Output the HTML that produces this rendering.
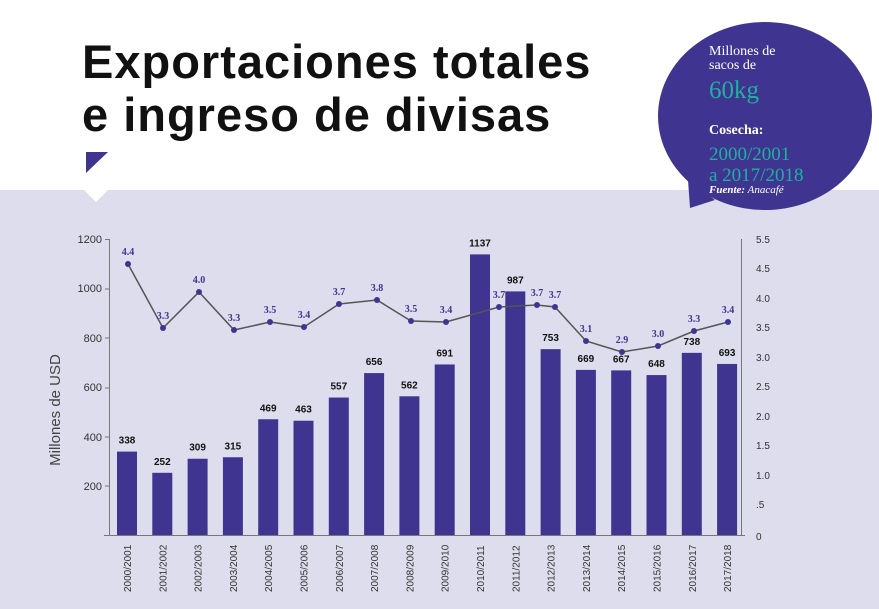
<!DOCTYPE html>
<html><head><meta charset="utf-8"><style>
body{margin:0;width:879px;height:609px;overflow:hidden;background:#fff;font-family:"Liberation Sans",sans-serif}
</style></head><body>
<svg width="879" height="609" xmlns="http://www.w3.org/2000/svg" style="position:absolute;left:0;top:0">
<rect x="0" y="190" width="879" height="419" fill="#dedded"/>
<polygon points="84,190 108,190 96,202" fill="#fff"/>
<text x="82" y="78" font-size="47" font-weight="bold" fill="#111" font-family="Liberation Sans,sans-serif" letter-spacing="1">Exportaciones totales</text>
<text x="82" y="131" font-size="47" font-weight="bold" fill="#111" font-family="Liberation Sans,sans-serif" letter-spacing="1">e ingreso de divisas</text>
<polygon points="86,152 108,152 86,173" fill="#3f3590"/>
<ellipse cx="765" cy="116" rx="107" ry="94" fill="#3f3590"/>
<polygon points="688,180 715,200 690,208" fill="#3f3590"/>
<g font-family="Liberation Serif,serif">
<text x="709" y="55" font-size="14" fill="#fff">Millones de</text>
<text x="709" y="69" font-size="14" fill="#fff">sacos de</text>
<text x="709" y="98" font-size="25" fill="#1fb0a0">60kg</text>
<text x="709" y="134" font-size="14" font-weight="bold" fill="#fff">Cosecha:</text>
<text x="709" y="160" font-size="19" fill="#1fb0a0">2000/2001</text>
<text x="709" y="181" font-size="19" fill="#1fb0a0">a 2017/2018</text>
<text x="709" y="193" font-size="11" fill="#fff" font-style="italic"><tspan font-weight="bold">Fuente:</tspan> Anacafé</text>
</g>
<g stroke="#777" stroke-width="1">
<line x1="109.5" y1="239" x2="109.5" y2="536"/>
<line x1="104" y1="535.5" x2="745" y2="535.5"/>
<line x1="741.5" y1="239" x2="741.5" y2="536"/>
</g>
<g font-size="11" fill="#333" text-anchor="end">
<text x="102" y="243">1200</text><text x="102" y="292">1000</text><text x="102" y="342">800</text><text x="102" y="391">600</text><text x="102" y="441">400</text><text x="102" y="490">200</text>
</g>
<g stroke="#777"><line x1="105" y1="239.5" x2="109" y2="239.5"/><line x1="105" y1="289" x2="109" y2="289"/><line x1="105" y1="338" x2="109" y2="338"/><line x1="105" y1="388" x2="109" y2="388"/><line x1="105" y1="437" x2="109" y2="437"/><line x1="105" y1="486" x2="109" y2="486"/></g>
<g font-size="10" fill="#333">
<text x="756" y="243">5.5</text><text x="756" y="272">4.5</text><text x="756" y="302">4.0</text><text x="756" y="331">3.5</text><text x="756" y="361">3.0</text><text x="756" y="390">2.5</text><text x="756" y="420">2.0</text><text x="756" y="449">1.5</text><text x="756" y="479">1.0</text><text x="756" y="508">.5</text><text x="756" y="540">0</text>
</g>
<text transform="translate(60,410) rotate(-90)" font-size="15" fill="#444" text-anchor="middle">Millones de USD</text>
<g id="bars" fill="#3f3590"></g>
<g id="blab" font-size="10" font-weight="bold" fill="#111" text-anchor="middle"></g>
<g id="xlab" font-size="10" fill="#333"></g>
<path id="line" fill="none" stroke="#555" stroke-width="1.5"/>
<g id="dots" fill="#3f3590"></g>
<g id="dlab" font-size="10" font-weight="bold" fill="#3f3590" text-anchor="middle" font-family="Liberation Serif,serif"></g>
</svg>
<script>
var ns="http://www.w3.org/2000/svg";
var v=[338,252,309,315,469,463,557,656,562,691,1137,987,753,669,667,648,738,693];
var yrs=["2000/2001","2001/2002","2002/2003","2003/2004","2004/2005","2005/2006","2006/2007","2007/2008","2008/2009","2009/2010","2010/2011","2011/2012","2012/2013","2013/2014","2014/2015","2015/2016","2016/2017","2017/2018"];
function el(t,a,p,txt){var e=document.createElementNS(ns,t);for(var k in a)e.setAttribute(k,a[k]);if(txt)e.textContent=txt;document.getElementById(p).appendChild(e);}
for(var i=0;i<18;i++){var cx=127+i*35.3,h=v[i]*0.2468;
el("rect",{x:cx-10,y:535-h,width:20,height:h},"bars");
el("text",{x:cx,y:535-h-8},"blab",v[i]);
el("text",{transform:"translate("+(cx+4)+",592) rotate(-90)"},"xlab",yrs[i]);}
var pts=[[128,264,"4.4"],[163,328,"3.3"],[199,292,"4.0"],[234,330,"3.3"],[270,322,"3.5"],[304,327,"3.4"],[339,304,"3.7"],[377,300,"3.8"],[411,321,"3.5"],[446,322,"3.4"],[499,307,"3.7"],[537,305,"3.7"],[555,307,"3.7"],[586,341,"3.1"],[622,352,"2.9"],[658,346,"3.0"],[694,331,"3.3"],[728,322,"3.4"]];
var d="";pts.forEach(function(p,i){d+=(i?"L":"M")+p[0]+","+p[1];el("circle",{cx:p[0],cy:p[1],r:3},"dots");el("text",{x:p[0],y:p[1]-9},"dlab",p[2]);});
document.getElementById("line").setAttribute("d",d);
</script>
</body></html>
